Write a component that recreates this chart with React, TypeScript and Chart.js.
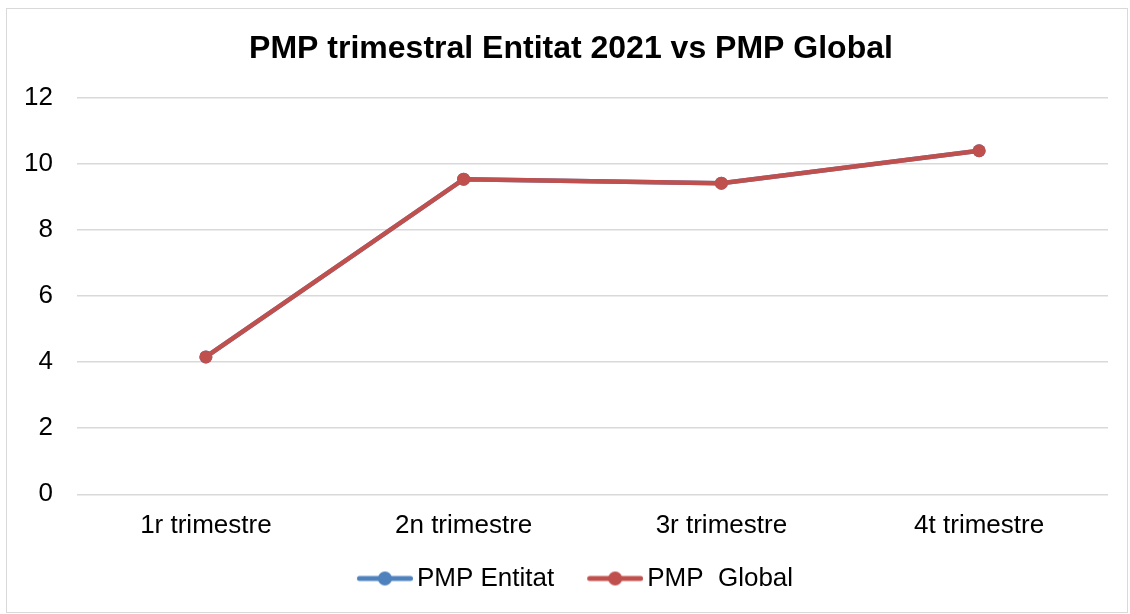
import React, { useEffect, useRef } from "react";
import { Chart, registerables } from "chart.js";

Chart.register(...registerables);

const categories = ["1r trimestre", "2n trimestre", "3r trimestre", "4t trimestre"];
const entitatValues = [4.16, 9.54, 9.42, 10.4];
const globalValues = [4.16, 9.54, 9.42, 10.4];
const yTicks = [0, 2, 4, 6, 8, 10, 12];
const titleText = "PMP trimestral Entitat 2021 vs PMP Global";
const seriesNames = ["PMP Entitat", "PMP  Global"];

const BLUE = "#4F81BD";
const RED = "#C0504D";
const FONT = "'Liberation Sans', Arial, sans-serif";

function makeLegendMarker(color: string): HTMLCanvasElement {
  // image is centred on the legend box; marker drawn in its right part
  const c = document.createElement("canvas");
  c.width = 90;
  c.height = 16;
  const ctx = c.getContext("2d")!;
  ctx.strokeStyle = color;
  ctx.lineWidth = 5;
  ctx.lineCap = "round";
  ctx.beginPath();
  ctx.moveTo(36.5, 8);
  ctx.lineTo(87.5, 8);
  ctx.stroke();
  ctx.fillStyle = color;
  ctx.beginPath();
  ctx.arc(62, 8, 7, 0, Math.PI * 2);
  ctx.fill();
  return c;
}

const boxShift = {
  id: "boxShift",
  afterLayout(chart: any) {
    if (chart.legend) {
      chart.legend.left -= 3.5;
      chart.legend.right -= 3.5;
    }
    if (chart.titleBlock) {
      chart.titleBlock.left += 5;
      chart.titleBlock.right += 5;
    }
  },
};

export default function App() {
  const ref = useRef<HTMLCanvasElement>(null);
  useEffect(() => {
    if (!ref.current) return;
    const markers = [makeLegendMarker(BLUE), makeLegendMarker(RED)];
    const chart = new Chart(ref.current, {
      type: "line",
      data: {
        labels: categories,
        datasets: [
          {
            label: seriesNames[0],
            data: entitatValues,
            borderColor: BLUE,
            backgroundColor: BLUE,
            borderWidth: 4.5,
            pointRadius: 6.5,
            pointBackgroundColor: BLUE,
            pointBorderWidth: 0,
            tension: 0,
            order: 1,
          },
          {
            label: seriesNames[1],
            data: globalValues,
            borderColor: RED,
            backgroundColor: RED,
            borderWidth: 4.5,
            pointRadius: 6.5,
            pointBackgroundColor: RED,
            pointBorderWidth: 0,
            tension: 0,
            order: 0,
          },
        ],
      },
      plugins: [boxShift],
      options: {
        animation: false,
        responsive: true,
        maintainAspectRatio: false,
        layout: { padding: { left: 17, right: 19, top: 0, bottom: 19.5 } },
        plugins: {
          title: {
            display: true,
            text: titleText,
            color: "#000",
            font: { family: FONT, size: 32, weight: "bold" },
            padding: { top: 21, bottom: 29.5 },
          },
          legend: {
            position: "bottom",
            labels: {
              usePointStyle: true,
              pointStyleWidth: 72,
              color: "#000",
              font: { family: FONT, size: 26 },
              padding: 8,
              generateLabels: (ch: any) =>
                ch.data.datasets.map((ds: any, i: number) => ({
                  text: ds.label,
                  fillStyle: ds.borderColor,
                  strokeStyle: ds.borderColor,
                  lineWidth: 0,
                  pointStyle: markers[i],
                  hidden: false,
                  datasetIndex: i,
                  fontColor: "#000",
                })),
            },
          },
          tooltip: { enabled: false },
        },
        scales: {
          x: {
            offset: true,
            grid: { display: false, drawTicks: false },
            border: { display: false },
            ticks: { color: "#000", font: { family: FONT, size: 26 }, padding: 16 },
          },
          y: {
            min: 0,
            max: 12,
            afterBuildTicks: (axis: any) => {
              axis.ticks = yTicks.map((v) => ({ value: v }));
            },
            afterFit: (axis: any) => {
              axis.width = 53;
            },
            grid: { color: "#d9d9d9", lineWidth: 1.5, drawTicks: false },
            border: { display: false },
            ticks: { color: "#000", font: { family: FONT, size: 26 }, padding: 24 },
          },
        },
      },
    });
    return () => chart.destroy();
  }, []);
  return (
    <div
      style={{
        position: "absolute",
        left: 6,
        top: 8,
        width: 1122,
        height: 605,
        border: "1px solid #d9d9d9",
        boxSizing: "border-box",
        background: "#fff",
        overflow: "hidden",
      }}
    >
      <div style={{ position: "absolute", left: 0, top: 0, width: 1120, height: 612 }}>
        <canvas ref={ref} />
      </div>
    </div>
  );
}
